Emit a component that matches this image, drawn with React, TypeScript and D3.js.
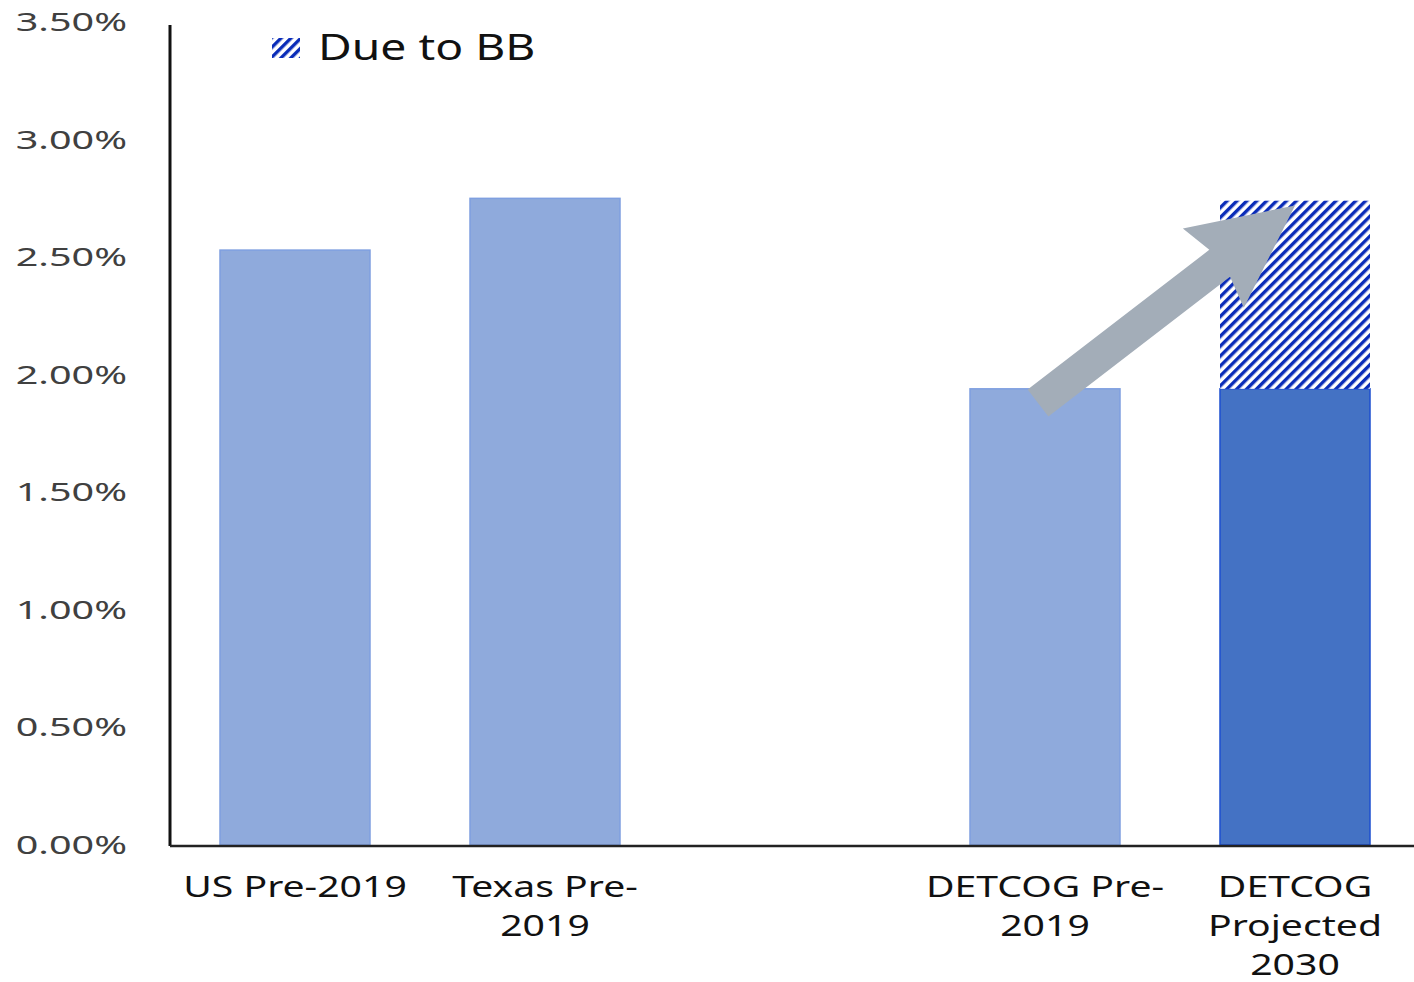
import * as d3 from "d3";

const width = 1414;
const height = 982;

const categories = ["US Pre-2019", "Texas Pre-2019", "", "DETCOG Pre-2019", "DETCOG Projected 2030"];
const labelLines = [["US Pre-2019"], ["Texas Pre-", "2019"], [], ["DETCOG Pre-", "2019"], ["DETCOG", "Projected", "2030"]];
const baseValues = [2.53, 2.75, null, 1.94, 1.94];
const dueToBB = [0, 0, null, 0, 0.8];
const baseIsProjected = [false, false, false, false, true];
const yTicks = [0, 0.5, 1, 1.5, 2, 2.5, 3, 3.5];

const margin = { left: 170, right: -6, top: 22, bottom: 137 };

const App = () => {
  const x = d3
    .scaleBand<string>()
    .domain(categories.map((c, i) => c || `gap${i}`))
    .range([margin.left, width - margin.right])
    .paddingInner(0.4)
    .paddingOuter(0.2);
  const y = d3
    .scaleLinear()
    .domain([0, 3.5])
    .range([height - margin.bottom, margin.top]);
  const key = (i: number) => categories[i] || `gap${i}`;
  const bw = x.bandwidth();

  // arrow from DETCOG pre-2019 top to projected top
  const tail: [number, number] = [x(key(3))! + bw / 2 - 7, y(1.88)];
  const tip: [number, number] = [x(key(4))! + bw / 2, y(2.72)];
  const dx = tip[0] - tail[0];
  const dy = tip[1] - tail[1];
  const len = Math.hypot(dx, dy);
  const ang = (Math.atan2(dy, dx) * 180) / Math.PI;
  const sw = 17;
  const hw = 50;
  const hl = 95;
  const arrowPts = [
    [0, -sw],
    [len - hl, -sw],
    [len - hl - 8, -hw],
    [len, 0],
    [len - hl - 8, hw],
    [len - hl, sw],
    [0, sw],
  ];

  return (
    <div style={{ position: "absolute", left: 0, top: 0 }}>
      <svg width={width} height={height} style={{ display: "block", background: "#fff" }}>
        <defs>
          <pattern
            id="hatch"
            patternUnits="userSpaceOnUse"
            width={7}
            height={7}
            patternTransform="rotate(45)"
          >
            <rect width={7} height={7} fill="#fff" />
            <rect width={3.4} height={7} fill="#0a2cb8" />
          </pattern>
        </defs>

        {/* y tick labels */}
        {yTicks.map((t) => (
          <text
            key={t}
            transform={`translate(127, ${y(t) + 9}) scale(1.52, 1)`}
            textAnchor="end"
            fontFamily="Noto Sans"
            fontSize={26}
            fill="#404040"
          >
            {t.toFixed(2)}%
          </text>
        ))}

        {/* bars */}
        {baseValues.map((v, i) =>
          v == null ? null : (
            <g key={i}>
              <rect
                x={x(key(i))}
                y={y(v)}
                width={bw}
                height={y(0) - y(v)}
                fill={baseIsProjected[i] ? "#4472c4" : "#8faadc"}
                stroke={baseIsProjected[i] ? "#1d4fd0" : "#7f9fe0"}
                strokeWidth={1.5}
              />
              {dueToBB[i]! > 0 && (
                <rect
                  x={x(key(i))}
                  y={y(v + dueToBB[i]!)}
                  width={bw}
                  height={y(v) - y(v + dueToBB[i]!)}
                  fill="url(#hatch)"
                />
              )}
            </g>
          )
        )}

        {/* axes */}
        <line x1={margin.left} x2={margin.left} y1={y(3.5) + 3} y2={y(0) + 1} stroke="#111" strokeWidth={3} />
        <line x1={margin.left} x2={width} y1={y(0) + 1} y2={y(0) + 1} stroke="#222" strokeWidth={2.5} />

        {/* arrow */}
        <polygon
          transform={`translate(${tail[0]}, ${tail[1]}) rotate(${ang})`}
          points={arrowPts.map((p) => p.join(",")).join(" ")}
          fill="#a3adb8"
        />

        {/* x labels */}
        {labelLines.map((lines, i) =>
          lines.map((ln, j) => (
            <text
              key={`${i}-${j}`}
              transform={`translate(${x(key(i))! + bw / 2}, ${897 + j * 39}) scale(1.35, 1)`}
              textAnchor="middle"
              fontFamily="Noto Sans"
              fontSize={29}
              fill="#111"
            >
              {ln}
            </text>
          ))
        )}

        {/* legend */}
        <rect x={272} y={38} width={28} height={20} fill="url(#hatch)" />
        <text
          transform="translate(318, 60) scale(1.25, 1)"
          fontFamily="Noto Sans"
          fontSize={37}
          fill="#111"
        >
          Due to BB
        </text>
      </svg>
    </div>
  );
};

export default App;
